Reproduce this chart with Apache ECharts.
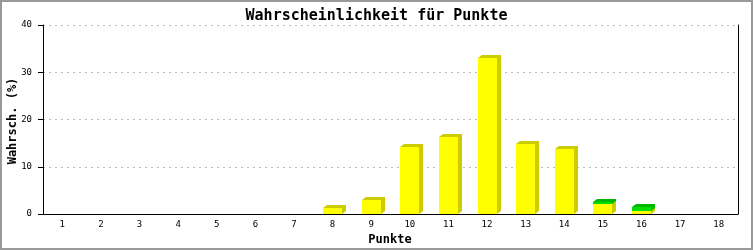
<!DOCTYPE html>
<html>
<head>
<meta charset="utf-8">
<script src="https://cdn.jsdelivr.net/npm/echarts@6/dist/echarts.min.js"></script>
<style>
html,body{margin:0;padding:0;background:#fff;}
#c{width:753px;height:250px;}
</style>
</head>
<body>
<div id="c"></div>
<script>
var categories = ['1','2','3','4','5','6','7','8','9','10','11','12','13','14','15','16','17','18'];
var yellowValues = [0,0,0,0,0,0,0,1.3,3.0,14.2,16.4,33.0,14.9,13.8,2.1,0.6,0,0];
var greenValues  = [0,0,0,0,0,0,0,0,0,0,0,0,0,0,0.4,0.8,0,0];
var yTicks = [0,10,20,30,40];

var FONT = 'DejaVu Sans Mono';

function makeRender(face, shade) {
  return function (params, api) {
    var idx = api.value(0), base = api.value(1), top = api.value(2);
    if (!(top - base > 0)) return null;
    var pTop = api.coord([idx, top]);
    var pBot = api.coord([idx, base]);
    var band = api.size([1, 0])[0];
    var w = Math.round(band * 0.5);
    var x = Math.round(pTop[0] - w / 2);
    var yT = Math.round(pTop[1]);
    var yB = Math.round(pBot[1]);
    var d = 4, e = 3;
    return {
      type: 'group',
      children: [
        { type: 'polygon', shape: { points: [[x, yT], [x + d, yT - e], [x + w + d, yT - e], [x + w + d, yB - e], [x + w, yB], [x + w, yT]] }, style: { fill: shade } },
        { type: 'rect', shape: { x: x, y: yT, width: w, height: yB - yT }, style: { fill: face } }
      ]
    };
  };
}

var yellowData = categories.map(function (c, i) { return [i, 0, yellowValues[i]]; });
var greenData = categories.map(function (c, i) { return [i, yellowValues[i], yellowValues[i] + greenValues[i]]; });

var chart = echarts.init(document.getElementById('c'), null, { renderer: 'canvas' });
chart.setOption({
  backgroundColor: '#ffffff',
  animation: false,
  title: {
    text: 'Wahrscheinlichkeit für Punkte',
    left: 'center', top: 4,
    textStyle: { fontFamily: FONT, fontWeight: 'bold', fontSize: 15, color: '#000' }
  },
  grid: { left: 43, right: 15, top: 25, bottom: 36, containLabel: false, outerBoundsMode: 'none' },
  xAxis: {
    type: 'category',
    data: categories,
    axisLine: { show: true, lineStyle: { color: '#000', width: 1 } },
    axisTick: { show: false },
    axisLabel: { fontFamily: FONT, fontSize: 9, color: '#000', margin: 6, interval: 0 },
    splitLine: { show: false }
  },
  yAxis: [{
    type: 'value',
    min: 0, max: 40, interval: 10,
    axisLine: { show: true, lineStyle: { color: '#000', width: 1 } },
    axisTick: { show: true, length: 5, lineStyle: { color: '#000' } },
    axisLabel: { fontFamily: FONT, fontSize: 9, color: '#000', margin: 11,
      formatter: function (v) { return yTicks.indexOf(v) >= 0 ? String(v) : ''; } },
    splitLine: { show: true, lineStyle: { color: '#bbbbbb', type: [2, 4], width: 1 } }
  }, {
    type: 'value',
    min: 0, max: 40, interval: 10,
    position: 'right',
    axisLine: { show: true, lineStyle: { color: '#000', width: 1 } },
    axisTick: { show: false },
    axisLabel: { show: false },
    splitLine: { show: false }
  }],
  graphic: [{
    type: 'rect',
    shape: { x: 1, y: 1, width: 751, height: 248 },
    style: { fill: null, stroke: '#999999', lineWidth: 2 },
    silent: true, z: 100
  }, {
    type: 'text',
    x: 390, y: 240,
    style: { text: 'Punkte', align: 'center', verticalAlign: 'middle',
      font: 'bold 12px "DejaVu Sans Mono"', fill: '#000' },
    silent: true
  }, {
    type: 'text',
    x: 13, y: 121,
    rotation: Math.PI / 2,
    style: { text: 'Wahrsch. (%)', align: 'center', verticalAlign: 'middle',
      font: 'bold 12px "DejaVu Sans Mono"', fill: '#000' },
    silent: true
  }],
  series: [{
    type: 'custom',
    renderItem: makeRender('#ffff00', '#cccc00'),
    data: yellowData,
    encode: { x: 0, y: [1, 2] },
    z: 2
  }, {
    type: 'custom',
    renderItem: makeRender('#00e000', '#00b800'),
    data: greenData,
    encode: { x: 0, y: [1, 2] },
    z: 3
  }]
});
</script>
</body>
</html>
